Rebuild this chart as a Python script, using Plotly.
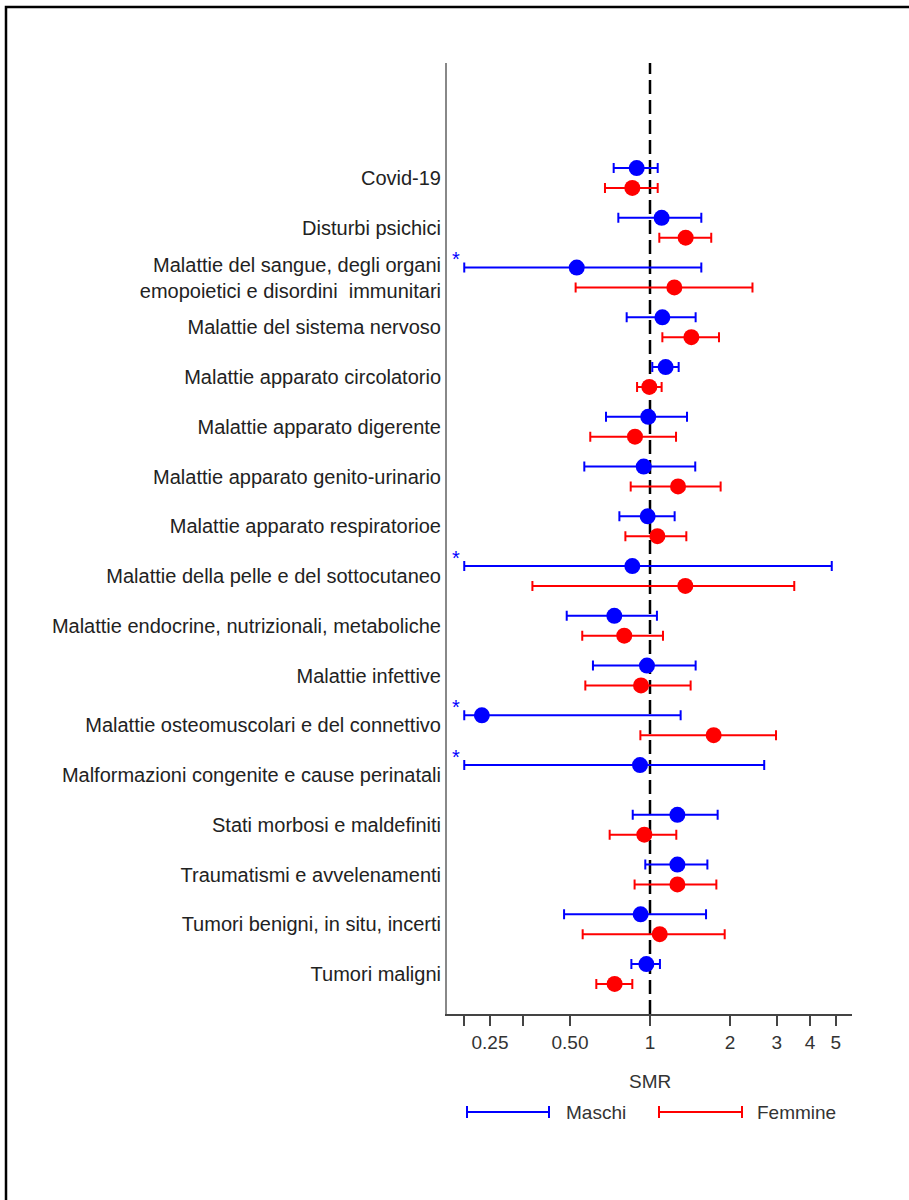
import numpy as np
import plotly.graph_objects as go

categories = [
    "Covid-19",
    "Disturbi psichici",
    "Malattie del sangue, degli organi<br>emopoietici e disordini  immunitari",
    "Malattie del sistema nervoso",
    "Malattie apparato circolatorio",
    "Malattie apparato digerente",
    "Malattie apparato genito-urinario",
    "Malattie apparato respiratorioe",
    "Malattie della pelle e del sottocutaneo",
    "Malattie endocrine, nutrizionali, metaboliche",
    "Malattie infettive",
    "Malattie osteomuscolari e del connettivo",
    "Malformazioni congenite e cause perinatali",
    "Stati morbosi e maldefiniti",
    "Traumatismi e avvelenamenti",
    "Tumori benigni, in situ, incerti",
    "Tumori maligni",
]

# Maschi (males)
m_smr = [0.891, 1.106, 0.530, 1.113, 1.145, 0.985, 0.947, 0.980, 0.858, 0.734, 0.974, 0.233, 0.917, 1.268, 1.268, 0.922, 0.969]
m_low = [0.730, 0.760, 0.200, 0.817, 1.020, 0.683, 0.566, 0.767, 0.200, 0.486, 0.610, 0.200, 0.200, 0.861, 0.960, 0.475, 0.851]
m_up  = [1.069, 1.560, 1.560, 1.485, 1.282, 1.378, 1.480, 1.238, 4.830, 1.062, 1.485, 1.304, 2.690, 1.797, 1.644, 1.625, 1.090]
m_clipped = [False, False, True, False, False, False, False, False, True, False, False, True, True, False, False, False, False]

# Femmine (females); None = not available
f_smr = [0.858, 1.362, 1.235, 1.431, 0.994, 0.878, 1.275, 1.066, 1.358, 0.800, 0.925, 1.736, None, 0.952, 1.268, 1.088, 0.736]
f_low = [0.677, 1.084, 0.525, 1.113, 0.894, 0.596, 0.846, 0.808, 0.361, 0.556, 0.571, 0.920, None, 0.705, 0.875, 0.558, 0.628]
f_up  = [1.069, 1.700, 2.430, 1.818, 1.106, 1.253, 1.844, 1.370, 3.490, 1.119, 1.422, 2.980, None, 1.256, 1.777, 1.910, 0.858]

x_tickvals = [0.2, 0.25, 1/3, 0.5, 1, 2, 3, 4, 5]
x_ticktext = ["", "0.25", "", "0.50", "1", "2", "3", "4", "5"]

BLUE = "#0000FF"
RED = "#FF0000"
FONT = "Liberation Sans, Arial, sans-serif"
FS = 19

rows = np.arange(len(categories))
off = 0.2

# pixel helpers for layout placement
L, R, T, B = 447, 852, 63, 1014
def px(p):
    return (p - L) / (R - L)
def py(p):
    return (B - p) / (B - T)

fig = go.Figure()

# Maschi
mx, my, mplus, mminus = [], [], [], []
for i in rows:
    mx.append(m_smr[i]); my.append(i - off)
    mplus.append(m_up[i] - m_smr[i]); mminus.append(m_smr[i] - m_low[i])
fig.add_trace(go.Scatter(
    x=mx, y=my, mode="markers", name="Maschi",
    marker=dict(color=BLUE, size=16, line=dict(width=0)),
    error_x=dict(type="data", array=mplus, arrayminus=mminus, color=BLUE, thickness=2, width=5),
    showlegend=False, hoverinfo="skip"))

# Femmine
fx, fy, fplus, fminus = [], [], [], []
for i in rows:
    if f_smr[i] is None:
        continue
    fx.append(f_smr[i]); fy.append(i + off)
    fplus.append(f_up[i] - f_smr[i]); fminus.append(f_smr[i] - f_low[i])
fig.add_trace(go.Scatter(
    x=fx, y=fy, mode="markers", name="Femmine",
    marker=dict(color=RED, size=16, line=dict(width=0)),
    error_x=dict(type="data", array=fplus, arrayminus=fminus, color=RED, thickness=2, width=5),
    showlegend=False, hoverinfo="skip"))

# asterisks for truncated lower CI
sx = [0.186 for i in rows if m_clipped[i]]
sy = [i - off - 0.13 for i in rows if m_clipped[i]]
fig.add_trace(go.Scatter(
    x=sx, y=sy, mode="text", text=["*"] * len(sx), textposition="middle center",
    textfont=dict(color=BLUE, size=20, family=FONT), showlegend=False, hoverinfo="skip"))

x_range = [np.log10(2 ** ((L - 650) / 80)), np.log10(2 ** ((R - 650) / 80))]
row_px = 49.75
y_range = [(B - 178) / row_px, (T - 178) / row_px]

fig.update_xaxes(
    type="log", range=x_range, tickvals=x_tickvals, ticktext=x_ticktext,
    showgrid=False, zeroline=False, showline=True, linecolor="#444", linewidth=2,
    ticks="outside", ticklen=10, tickwidth=2, tickcolor="#444",
    tickfont=dict(family=FONT, size=FS, color="#333"))
fig.update_yaxes(
    range=y_range, tickvals=list(rows), ticktext=categories,
    showgrid=False, zeroline=False, showline=True, linecolor="#888", linewidth=2,
    ticks="", ticklabelstandoff=0, tickfont=dict(family=FONT, size=20, color="#222"))

shapes = []
# reference dashed line at SMR = 1
shapes.append(dict(type="line", xref="x", yref="paper", x0=1, x1=1, y0=0, y1=1,
                   line=dict(color="black", width=2.5, dash="14px,6px"), layer="below"))
# outer frame
shapes.append(dict(type="rect", xref="paper", yref="paper",
                   x0=px(6), x1=px(915), y0=py(1210), y1=py(7),
                   line=dict(color="black", width=2.5)))
# legend symbols
for x0, x1, col in [(467, 549, BLUE), (659, 742, RED)]:
    yc = py(1112)
    shapes.append(dict(type="line", xref="paper", yref="paper", x0=px(x0), x1=px(x1), y0=yc, y1=yc,
                       line=dict(color=col, width=2)))
    for xx in (x0, x1):
        shapes.append(dict(type="line", xref="paper", yref="paper", x0=px(xx), x1=px(xx),
                           y0=py(1106), y1=py(1118), line=dict(color=col, width=2)))

annotations = [
    dict(text="SMR", xref="paper", yref="paper", x=px(650), y=py(1081), showarrow=False,
         xanchor="center", yanchor="middle", font=dict(family=FONT, size=FS, color="#333")),
    dict(text="Maschi", xref="paper", yref="paper", x=px(564), y=py(1112), showarrow=False,
         xanchor="left", yanchor="middle", font=dict(family=FONT, size=FS, color="#333")),
    dict(text="Femmine", xref="paper", yref="paper", x=px(755), y=py(1112), showarrow=False,
         xanchor="left", yanchor="middle", font=dict(family=FONT, size=FS, color="#333")),
]

fig.update_layout(
    width=909, height=1200,
    margin=dict(l=L, r=909 - R, t=T, b=1200 - B, pad=0),
    paper_bgcolor="white", plot_bgcolor="white",
    shapes=shapes, annotations=annotations, showlegend=False,
    font=dict(family=FONT, size=FS, color="#222"))

fig.write_html("out.html", config={"displayModeBar": False},
               post_script="document.body.style.margin='0px';document.body.style.overflow='hidden';")
